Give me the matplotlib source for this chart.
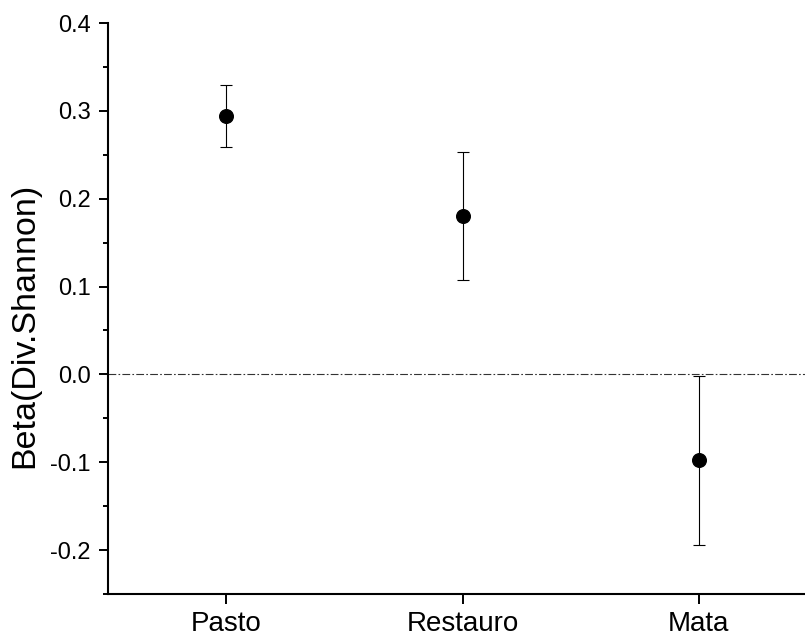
import matplotlib
matplotlib.use("Agg")
import matplotlib.pyplot as plt
from matplotlib.ticker import MultipleLocator

plt.rcParams['font.family'] = ['Liberation Sans', 'DejaVu Sans']
plt.rcParams['axes.unicode_minus'] = False

categories = ["Pasto", "Restauro", "Mata"]
beta_mean = [0.294, 0.180, -0.098]
beta_err = [0.035, 0.073, 0.096]

fig = plt.figure(figsize=(8.05, 6.38), dpi=100)
ax = fig.add_axes([108 / 805, 44 / 638, (817 - 108) / 805, (594 - 23) / 638])

x = list(range(1, len(categories) + 1))
ax.axhline(0, color="#333333", lw=0.8, linestyle=(0, (7, 2, 1.5, 2)), zorder=1)
ax.errorbar(x, beta_mean, yerr=beta_err, fmt="o", color="black",
            markersize=9.8, ecolor="black", elinewidth=0.8, capsize=4.5,
            capthick=0.8, zorder=3)

ax.set_xlim(0.5, 3.5)
ax.set_ylim(-0.25, 0.4)
ax.set_xticks(x)
ax.set_xticklabels(categories, fontsize=20)
ax.yaxis.set_major_locator(MultipleLocator(0.1))
ax.yaxis.set_minor_locator(MultipleLocator(0.05))
ax.set_yticklabels([f"{v:.1f}" for v in ax.get_yticks()])
ax.tick_params(axis="y", which="major", direction="out", length=6.5, width=1.4,
               labelsize=17, pad=6)
ax.tick_params(axis="y", which="minor", direction="out", length=3.5, width=1.4)
ax.tick_params(axis="x", which="major", direction="out", length=7, width=1.4, pad=5.5)

for side in ("top", "right"):
    ax.spines[side].set_visible(False)
for side in ("left", "bottom"):
    ax.spines[side].set_linewidth(1.5)

ax.set_ylabel("Beta(Div.Shannon)", fontsize=24.5)
ax.yaxis.set_label_coords(-(108 - 40) / 709, (594 - 325) / 571)

fig.savefig("out.png", dpi=100)
